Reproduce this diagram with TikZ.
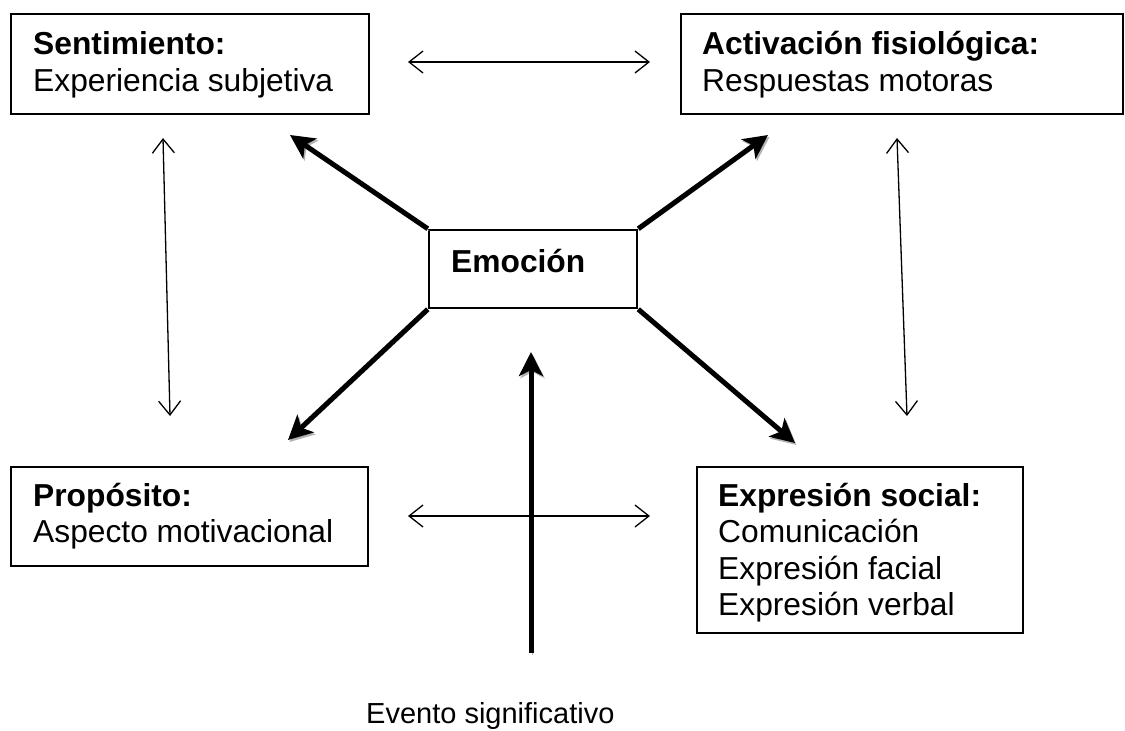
\documentclass[tikz,border=0pt]{standalone}
\usepackage{fontspec}
\setmainfont{Liberation Sans}
\usetikzlibrary{arrows.meta}
\begin{document}
\begin{tikzpicture}[x=1pt,y=-1pt,
  box/.style={draw=black, line width=2pt, inner sep=0pt, rectangle},
  txt/.style={anchor=base west, inner sep=0pt, font=\fontsize{31.75pt}{37pt}\selectfont},
  thinarrow/.style={line width=1.3pt, {Straight Barb[length=14pt,width=22pt]}-{Straight Barb[length=14pt,width=22pt]}},
  thickarrow/.style={line width=5pt, -{Stealth[length=24pt,width=24pt,inset=6pt]},
    preaction={draw=gray!60, transform canvas={xshift=1.5pt,yshift=-2pt}}},
]
\useasboundingbox (0,0) rectangle (1125,731);

% boxes
\node[box, minimum width=358pt, minimum height=100pt] (sent) at (190,64) {};
\node[box, minimum width=442pt, minimum height=100pt] (acti) at (902,64) {};
\node[box, line width=2.5pt, minimum width=208pt, minimum height=78pt] (emo) at (533,269) {};
\node[box, minimum width=357pt, minimum height=99pt] (prop) at (189.5,516.5) {};
\node[box, minimum width=326pt, minimum height=166pt] (expr) at (860,550) {};

% texts
\node[txt] (t1a) at (33,54) {\textbf{Sentimiento:}};
\node[txt] (t1b) at (33,91) {Experiencia subjetiva};
\node[txt] (t2a) at (702,54) {\textbf{Activación fisiológica:}};
\node[txt] (t2b) at (702,91) {Respuestas motoras};
\node[txt] (t3) at (451,272) {\textbf{Emoción}};
\node[txt] (t4a) at (33,506) {\textbf{Propósito:}};
\node[txt] (t4b) at (33,542) {Aspecto motivacional};
\node[txt] (t5a) at (718,506) {\textbf{Expresión social:}};
\node[txt] (t5b) at (718,542) {Comunicación};
\node[txt] (t5c) at (718,579) {Expresión facial};
\node[txt] (t5d) at (718,615) {Expresión verbal};
\node[txt, font=\fontsize{29pt}{34pt}\selectfont] (ev) at (366,723) {Evento significativo};

% coordinates for arrow ends
\coordinate (hTopL) at (408,62);
\coordinate (hTopR) at (650,62);
\coordinate (hBotL) at (408,516);
\coordinate (hBotR) at (650,516);
\coordinate (vLT) at (163,138);
\coordinate (vLB) at (170,416);
\coordinate (vRT) at (897,138);
\coordinate (vRB) at (907,416);
\coordinate (tipTL) at (290,135);
\coordinate (tipTR) at (768,135);
\coordinate (tipBL) at (288,440);
\coordinate (tipBR) at (795,443);
\coordinate (evTop) at (531,352);
\coordinate (evBot) at (531,653);

% thin double arrows
\draw[thinarrow] (hTopL) -- (hTopR);
\draw[thinarrow] (hBotL) -- (hBotR);
\draw[thinarrow] (vLT) -- (vLB);
\draw[thinarrow] (vRT) -- (vRB);

% thick arrows
\draw[thickarrow] (emo.north west) -- (tipTL);
\draw[thickarrow] (emo.north east) -- (tipTR);
\draw[thickarrow] (emo.south west) -- (tipBL);
\draw[thickarrow] (emo.south east) -- (tipBR);
\draw[thickarrow] (evBot) -- (evTop);
\end{tikzpicture}
\end{document}
